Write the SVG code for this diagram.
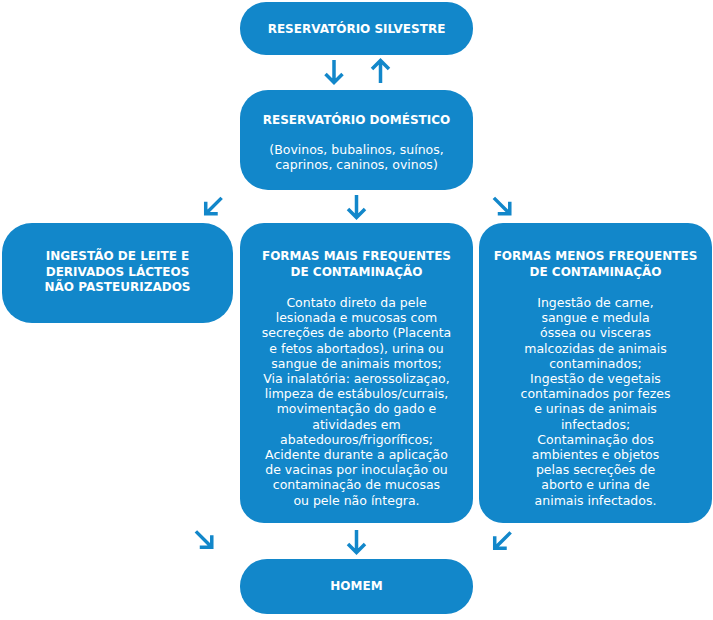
<svg xmlns="http://www.w3.org/2000/svg" width="713" height="620" viewBox="0 0 713 620">
<style>
.box{fill:#1287CA}
.t{font-family:"DejaVu Sans",sans-serif;font-weight:bold;font-size:12px;fill:#fff;text-anchor:middle}
.b{font-family:"DejaVu Sans",sans-serif;font-size:12.5px;fill:#fff;text-anchor:middle}
.arrow{fill:none;stroke:#1287CA;stroke-width:3.5;stroke-linejoin:miter}
</style>
<rect width="713" height="620" fill="#fff"/>
<g id="silvestre">
<rect class="box" x="240" y="2" width="233" height="53" rx="26"/>
<text class="t" x="356.5" y="32.5">RESERVATÓRIO SILVESTRE</text>
</g>
<g id="domestico">
<rect class="box" x="240" y="90" width="233" height="100" rx="28"/>
<text class="t" x="356.5" y="124">RESERVATÓRIO DOMÉSTICO</text>
<text class="b" x="356.5" y="154">(Bovinos, bubalinos, suínos,</text>
<text class="b" x="356.5" y="169">caprinos, caninos, ovinos)</text>
</g>
<g id="ingestao">
<rect class="box" x="2" y="223" width="231" height="100" rx="30"/>
<text class="t" x="117.5" y="260">INGESTÃO DE LEITE E</text>
<text class="t" x="117.5" y="275.5">DERIVADOS LÁCTEOS</text>
<text class="t" x="117.5" y="291">NÃO PASTEURIZADOS</text>
</g>
<g id="mais-frequentes">
<rect class="box" x="240" y="223" width="233" height="300" rx="24"/>
<text class="t" x="356.5" y="260">FORMAS MAIS FREQUENTES</text>
<text class="t" x="356.5" y="275.5">DE CONTAMINAÇÃO</text>
<text class="b" x="356.5" y="307">Contato direto da pele</text>
<text class="b" x="356.5" y="322.2">lesionada e mucosas com</text>
<text class="b" x="356.5" y="337.4">secreções de aborto (Placenta</text>
<text class="b" x="356.5" y="352.6">e fetos abortados), urina ou</text>
<text class="b" x="356.5" y="367.8">sangue de animais mortos;</text>
<text class="b" x="356.5" y="383">Via inalatória: aerossolizaçao,</text>
<text class="b" x="356.5" y="398.2">limpeza de estábulos/currais,</text>
<text class="b" x="356.5" y="413.4">movimentação do gado e</text>
<text class="b" x="356.5" y="428.6">atividades em</text>
<text class="b" x="356.5" y="443.8">abatedouros/frigoríficos;</text>
<text class="b" x="356.5" y="459">Acidente durante a aplicação</text>
<text class="b" x="356.5" y="474.2">de vacinas por inoculação ou</text>
<text class="b" x="356.5" y="489.4">contaminação de mucosas</text>
<text class="b" x="356.5" y="504.6">ou pele não íntegra.</text>
</g>
<g id="menos-frequentes">
<rect class="box" x="479" y="223" width="233" height="300" rx="24"/>
<text class="t" x="595.5" y="260">FORMAS MENOS FREQUENTES</text>
<text class="t" x="595.5" y="275.5">DE CONTAMINAÇÃO</text>
<text class="b" x="595.5" y="307">Ingestão de carne,</text>
<text class="b" x="595.5" y="322.2">sangue e medula</text>
<text class="b" x="595.5" y="337.4">óssea ou visceras</text>
<text class="b" x="595.5" y="352.6">malcozidas de animais</text>
<text class="b" x="595.5" y="367.8">contaminados;</text>
<text class="b" x="595.5" y="383">Ingestão de vegetais</text>
<text class="b" x="595.5" y="398.2">contaminados por fezes</text>
<text class="b" x="595.5" y="413.4">e urinas de animais</text>
<text class="b" x="595.5" y="428.6">infectados;</text>
<text class="b" x="595.5" y="443.8">Contaminação dos</text>
<text class="b" x="595.5" y="459">ambientes e objetos</text>
<text class="b" x="595.5" y="474.2">pelas secreções de</text>
<text class="b" x="595.5" y="489.4">aborto e urina de</text>
<text class="b" x="595.5" y="504.6">animais infectados.</text>
</g>
<g id="homem">
<rect class="box" x="240" y="559" width="233" height="55" rx="27"/>
<text class="t" x="356.5" y="590">HOMEM</text>
</g>
<g id="connectors">
<path class="arrow" transform="translate(334,71.5)" d="M0,-11.5 V11 M-8.5,2.5 L0,11 L8.5,2.5"/>
<path class="arrow" transform="translate(380.5,71.5) rotate(180)" d="M0,-11.5 V11 M-8.5,2.5 L0,11 L8.5,2.5"/>
<path class="arrow" transform="translate(213.5,206) rotate(45)" d="M0,-11.5 V11 M-8.5,2.5 L0,11 L8.5,2.5"/>
<path class="arrow" transform="translate(356.5,206.5)" d="M0,-11.5 V11 M-8.5,2.5 L0,11 L8.5,2.5"/>
<path class="arrow" transform="translate(502,206) rotate(-45)" d="M0,-11.5 V11 M-8.5,2.5 L0,11 L8.5,2.5"/>
<path class="arrow" transform="translate(204,539.5) rotate(-45)" d="M0,-11.5 V11 M-8.5,2.5 L0,11 L8.5,2.5"/>
<path class="arrow" transform="translate(356.5,541.5)" d="M0,-11.5 V11 M-8.5,2.5 L0,11 L8.5,2.5"/>
<path class="arrow" transform="translate(502.5,540.5) rotate(45)" d="M0,-11.5 V11 M-8.5,2.5 L0,11 L8.5,2.5"/>
</g>
</svg>
